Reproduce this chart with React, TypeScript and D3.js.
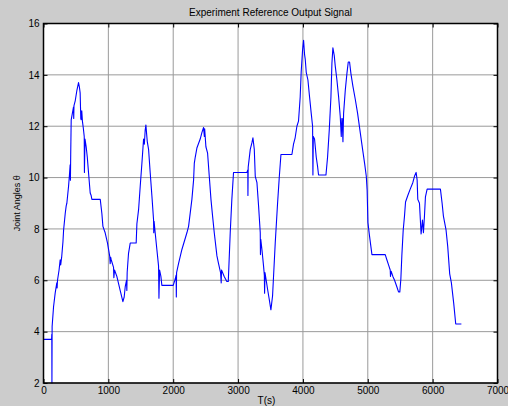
import React, { useRef, useEffect } from 'react';
import * as d3 from 'd3';

// time axis (s) and joint angle readings
const timeS = [
  0, 125, 128, 130, 133, 155, 180, 205, 210, 216, 240, 257, 265, 280, 300, 310, 335, 350, 360, 386,
  400, 411, 415, 420, 427, 445, 463, 466, 470, 490, 515, 540, 555, 565, 575, 581, 590, 600, 615, 628,
  631, 640, 658, 675, 694, 720, 735, 746, 875, 900, 916, 951, 987, 1020, 1028, 1035, 1044, 1080, 1085, 1095,
  1131, 1183, 1224, 1244, 1260, 1280, 1285, 1290, 1311, 1337, 1429, 1440, 1466, 1491, 1517, 1543, 1555, 1568, 1579, 1590,
  1600, 1620, 1645, 1671, 1697, 1700, 1705, 1722, 1748, 1774, 1780, 1790, 1810, 1825, 1980, 2000, 2031, 2045, 2048, 2052,
  2082, 2134, 2211, 2237, 2288, 2314, 2325, 2340, 2365, 2416, 2442, 2468, 2480, 2485, 2504, 2530, 2556, 2582, 2607, 2633,
  2674, 2699, 2730, 2740, 2745, 2786, 2827, 2849, 2879, 2904, 2930, 3136, 3150, 3152, 3156, 3188, 3213, 3229, 3250, 3265,
  3291, 3316, 3342, 3345, 3350, 3368, 3393, 3405, 3409, 3415, 3440, 3455, 3478, 3506, 3532, 3573, 3609, 3635, 3661, 3830,
  3855, 3880, 3907, 3932, 3958, 3973, 3994, 4010, 4025, 4036, 4051, 4077, 4102, 4128, 4149, 4154, 4160, 4179, 4205, 4225,
  4241, 4355, 4380, 4406, 4432, 4447, 4462, 4483, 4498, 4524, 4550, 4575, 4591, 4600, 4606, 4617, 4627, 4653, 4678, 4699,
  4719, 4740, 4771, 4807, 4843, 4884, 4920, 4951, 4977, 4990, 5002, 5028, 5064, 5269, 5294, 5320, 5346, 5350, 5360, 5387,
  5413, 5448, 5474, 5494, 5510, 5525, 5546, 5566, 5582, 5617, 5654, 5694, 5720, 5745, 5761, 5771, 5797, 5822, 5843, 5858,
  5874, 5889, 5915, 6120, 6146, 6166, 6207, 6233, 6263, 6289, 6325, 6356, 6443,
];

const jointAngle = [
  3.7, 3.7, 3.9, 2.0, 4.2, 4.97, 5.5, 5.9, 5.7, 6.0, 6.4, 6.8, 6.6, 6.9, 7.5, 7.96, 8.6, 8.9, 9.0, 9.65,
  10.1, 10.5, 9.9, 11.0, 12.25, 12.5, 12.75, 12.3, 12.8, 13.0, 13.4, 13.7, 13.5, 13.3, 12.3, 12.25, 12.6, 12.2, 11.9, 11.6,
  10.2, 11.5, 11.2, 10.8, 10.2, 9.4, 9.3, 9.15, 9.15, 8.6, 8.1, 7.85, 7.45, 6.95, 6.65, 6.9, 6.8, 6.5, 6.1, 6.4,
  6.15, 5.6, 5.17, 5.35, 5.75, 6.0, 5.6, 6.3, 7.05, 7.45, 7.45, 8.2, 8.75, 9.65, 10.55, 11.5, 11.3, 11.85, 12.05, 11.7,
  11.4, 11.1, 10.2, 9.3, 8.35, 7.85, 8.3, 7.85, 7.2, 6.55, 5.3, 6.4, 6.15, 5.8, 5.8, 5.8, 6.05, 6.2, 5.35, 6.3,
  6.65, 7.2, 7.85, 8.1, 9.15, 9.9, 10.55, 10.8, 11.15, 11.5, 11.75, 11.95, 11.6, 11.9, 11.2, 10.95, 10.05, 9.15, 8.5, 7.85,
  6.95, 6.65, 6.3, 5.9, 6.4, 6.15, 5.95, 5.95, 7.85, 9.15, 10.2, 10.2, 10.3, 9.3, 10.4, 11.1, 11.35, 11.55, 11.1, 10.05,
  9.8, 8.9, 7.85, 7.0, 7.6, 7.2, 6.55, 6.2, 5.5, 6.3, 5.9, 5.65, 5.3, 4.85, 5.4, 7.45, 9.0, 10.0, 10.9, 10.9,
  11.3, 11.55, 12.0, 12.2, 13.15, 14.1, 14.95, 15.35, 14.8, 14.6, 14.1, 13.8, 13.15, 12.5, 12.0, 10.1, 11.6, 11.5, 10.8, 10.45,
  10.1, 10.1, 10.8, 11.85, 13.15, 14.45, 15.05, 14.75, 14.35, 13.8, 13.15, 12.4, 11.6, 12.3, 12.3, 11.4, 12.5, 13.4, 14.05, 14.5,
  14.5, 14.05, 13.55, 13.05, 12.5, 11.75, 11.1, 10.55, 10.05, 9.5, 8.25, 7.7, 7.0, 7.0, 6.8, 6.6, 6.4, 6.15, 6.35, 6.15,
  6.0, 5.75, 5.55, 5.55, 6.05, 6.95, 7.95, 8.5, 9.05, 9.3, 9.55, 9.8, 10.05, 10.2, 9.9, 9.15, 9.0, 7.8, 8.35, 7.85,
  8.5, 9.25, 9.55, 9.55, 9.0, 8.5, 7.95, 7.3, 6.25, 5.9, 5.1, 4.3, 4.3,
];

const xTicks = [0, 1000, 2000, 3000, 4000, 5000, 6000, 7000];
const yTicks = [2, 4, 6, 8, 10, 12, 14, 16];

const App = () => {
  const svgRef = useRef<SVGSVGElement>(null);
  const width = 508;
  const height = 406;

  useEffect(() => {
    const margin = { top: 23.5, right: 10.5, bottom: 23, left: 43.5 };
    const innerWidth = width - margin.left - margin.right;
    const innerHeight = height - margin.top - margin.bottom;
    const font = '"Liberation Sans", Arial, sans-serif';

    const svg = d3.select(svgRef.current).html('');

    // figure background
    svg.append('rect').attr('width', width).attr('height', height).attr('fill', '#cccccc');

    const g = svg.append('g').attr('transform', `translate(${margin.left},${margin.top})`);

    g.append('rect').attr('width', innerWidth).attr('height', innerHeight).attr('fill', '#ffffff');

    const x = d3.scaleLinear().domain([0, 7000]).range([0, innerWidth]);
    const y = d3.scaleLinear().domain([2, 16]).range([innerHeight, 0]);

    // grid
    g.append('g')
      .selectAll('line')
      .data(xTicks)
      .join('line')
      .attr('x1', d => x(d)).attr('x2', d => x(d))
      .attr('y1', 0).attr('y2', innerHeight)
      .attr('stroke', '#9a9a9a')
      .attr('stroke-width', 1);
    g.append('g')
      .selectAll('line')
      .data(yTicks)
      .join('line')
      .attr('y1', d => y(d)).attr('y2', d => y(d))
      .attr('x1', 0).attr('x2', innerWidth)
      .attr('stroke', '#9a9a9a')
      .attr('stroke-width', 1);

    // signal
    const pts = timeS.map((t, i) => [t, jointAngle[i]] as [number, number]);
    const line = d3.line<[number, number]>().x(d => x(d[0])).y(d => y(d[1]));
    g.append('path')
      .datum(pts)
      .attr('fill', 'none')
      .attr('stroke', '#0000ff')
      .attr('stroke-width', 1.1)
      .attr('stroke-linejoin', 'round')
      .attr('d', line);

    // axes, ticks pointing inward
    const styleAxis = (sel: any) => {
      sel.select('.domain').remove();
      sel.selectAll('line').attr('stroke', '#000');
      sel.selectAll('text').attr('fill', '#000').style('font-family', font).style('font-size', '10px');
    };

    g.append('g')
      .attr('transform', `translate(0,${innerHeight})`)
      .call(d3.axisBottom(x).tickValues(xTicks).tickSize(-4).tickPadding(4).tickFormat(d3.format('d')))
      .call(styleAxis);
    g.append('g')
      .call(d3.axisTop(x).tickValues(xTicks).tickSize(-4).tickFormat(() => ''))
      .call(styleAxis);
    g.append('g')
      .call(d3.axisLeft(y).tickValues(yTicks).tickSize(-4).tickPadding(4).tickFormat(d3.format('d')))
      .call(styleAxis);
    g.append('g')
      .attr('transform', `translate(${innerWidth},0)`)
      .call(d3.axisRight(y).tickValues(yTicks).tickSize(-4).tickFormat(() => ''))
      .call(styleAxis);

    // box
    g.append('rect')
      .attr('width', innerWidth)
      .attr('height', innerHeight)
      .attr('fill', 'none')
      .attr('stroke', '#000')
      .attr('stroke-width', 1.5);

    // title and labels
    svg.append('text')
      .attr('x', margin.left + innerWidth / 2)
      .attr('y', 16)
      .attr('text-anchor', 'middle')
      .style('font-family', font)
      .style('font-size', '10px')
      .text('Experiment Reference Output Signal');

    svg.append('text')
      .attr('x', margin.left + innerWidth / 2 - 4)
      .attr('y', 404)
      .attr('text-anchor', 'middle')
      .style('font-family', font)
      .style('font-size', '10px')
      .text('T(s)');

    svg.append('text')
      .attr('transform', `translate(20,${margin.top + innerHeight / 2}) rotate(-90)`)
      .attr('text-anchor', 'middle')
      .style('font-family', font)
      .style('font-size', '9px')
      .text('Joint Angles θ');
  }, []);

  return (
    <svg
      ref={svgRef}
      width={width}
      height={height}
      style={{ position: 'absolute', left: 0, top: 0, display: 'block' }}
    ></svg>
  );
};

export default App;
